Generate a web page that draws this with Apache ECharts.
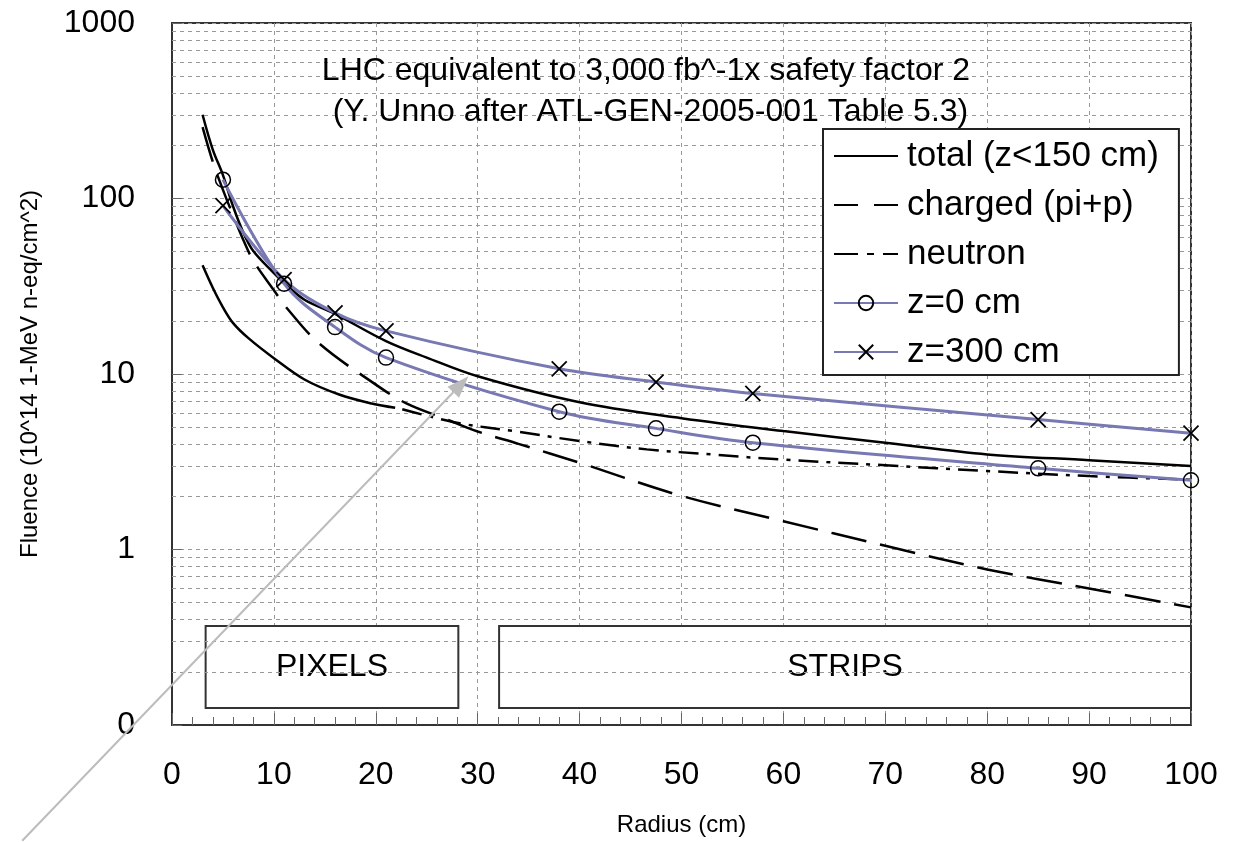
<!DOCTYPE html>
<html><head><meta charset="utf-8">
<script src="https://cdn.jsdelivr.net/npm/echarts@6/dist/echarts.min.js"></script>
<style>html,body{margin:0;padding:0;background:#fff}#c{width:1236px;height:842px}</style>
</head><body><div id="c"></div>
<script>
// ---- data (radius cm, fluence 1e14 n-eq/cm^2) ----
const total = [[3,300],[4,190],[5,136],[6,90],[7,64],[8,50],[10,37.6],[11,33],[13,26.5],[16,22],[21,15.4],[25,12.4],[30,9.7],[40,6.9],[50,5.6],[60,4.73],[70,4.06],[80,3.48],[90,3.23],[100,2.99]];
const charged = [[3,255],[4,162],[5,112],[6,80],[7,58],[8,44],[10,30],[11.2,24],[14.4,15],[20,8.7],[23,6.8],[27,5.5],[30,4.7],[34,4.0],[40,3.12],[50,2.02],[60,1.45],[70,1.05],[80,0.77],[90,0.6],[100,0.468]];
const neutronPixels = [[3,41.6],[4,31],[5,24],[6,19.5],[7.5,16],[10,12.3],[13,9.3],[16.4,7.64],[19.6,6.79],[21.9,6.42]];
const neutron = [[22.6,6.3],[28,5.27],[33.5,4.73],[40,4.15],[46.6,3.72],[53,3.48],[60,3.25],[70,3.02],[80,2.8],[90,2.62],[100,2.5]];
const z0 = [[5,128],[11,32.7],[16,18.5],[21,12.4],[38,6.1],[47.5,4.9],[57,4.06],[85,2.9],[100,2.48]];
const z300 = [[5,91],[11,34.5],[16,22.3],[21,17.6],[38,10.7],[47.5,9.0],[57,7.75],[85,5.5],[100,4.6]];

const seriesNames = ['total (z<150 cm)', 'charged (pi+p)', 'neutron', 'z=0 cm', 'z=300 cm'];
const yTickValues = [0.1, 1, 10, 100, 1000];
const yTickLabels = ['0', '1', '10', '100', '1000'];
const minorGridValues = [0.2,0.3,0.4,0.5,0.6,0.7,0.8,0.9, 2,3,4,5,6,7,8,9, 20,30,40,50,60,70,80,90, 200,300,400,500,600,700,800,900];
const regions = [{name:'PIXELS', r0:3.3, r1:28.1}, {name:'STRIPS', r0:32.1, r1:100}];
const regionBand = [0.125, 0.366];
const arrowFrom = [-14.7, 0.0219];
const arrowTo = [29.1, 9.7];
const titleLines = ['LHC equivalent to 3,000 fb^-1x safety factor 2', ' (Y. Unno after ATL-GEN-2005-001 Table 5.3)'];

const FONT = '"Liberation Sans", Arial, sans-serif';
const BLUE = '#7878b2';
const crossPath = 'path://M0,0L10,10M10,0L0,10';
const noSymbol = {color: 'rgba(0,0,0,0)', borderColor: 'rgba(0,0,0,0)', borderWidth: 0};

const chart = echarts.init(document.getElementById('c'), null, {renderer: 'canvas'});
const option = {
  backgroundColor: '#fff',
  animation: false,
  textStyle: {fontFamily: FONT, color: '#000'},
  title: {
    text: titleLines.join('\n'),
    left: 641, top: 46, textAlign: 'center',
    textStyle: {fontSize: 32, fontWeight: 'normal', color: '#000', lineHeight: 41, fontFamily: FONT}
  },
  legend: {
    data: [
      {name: seriesNames[0], itemStyle: noSymbol},
      {name: seriesNames[1], itemStyle: noSymbol, lineStyle: {type: [24, 16]}},
      {name: seriesNames[2], itemStyle: noSymbol, lineStyle: {type: [24, 9, 7, 9]}},
      {name: seriesNames[3]},
      {name: seriesNames[4]}
    ],
    orient: 'vertical',
    left: 823, top: 129,
    padding: [7, 20, 3, 10],
    itemGap: 9,
    itemWidth: 64, itemHeight: 18,
    backgroundColor: '#fff',
    borderColor: '#222', borderWidth: 2,
    textStyle: {fontSize: 35, lineHeight: 40, color: '#000', fontFamily: FONT, padding: [0, 0, 0, 4]},
    z: 20
  },
  grid: {left: 172, right: 45, top: 23, bottom: 116, show: true, borderColor: '#333', borderWidth: 2, backgroundColor: '#fff'},
  xAxis: {
    type: 'value', min: 0, max: 100, interval: 10,
    name: 'Radius (cm)', nameLocation: 'middle', nameGap: 88,
    nameTextStyle: {fontSize: 24, color: '#000', fontFamily: FONT},
    axisLine: {lineStyle: {color: '#333', width: 2}},
    axisTick: {inside: true, length: 12, lineStyle: {color: '#666'}},
    minorTick: {show: true, splitNumber: 5, length: 8, lineStyle: {color: '#666'}},
    axisLabel: {fontSize: 32, color: '#000', margin: 34, fontFamily: FONT},
    splitLine: {show: true, lineStyle: {color: '#999', type: [4, 4], width: 1}}
  },
  yAxis: {
    type: 'log', logBase: 10, min: 0.1, max: 1000,
    name: 'Fluence (10^14 1-MeV n-eq/cm^2)', nameLocation: 'middle', nameGap: 130,
    nameTextStyle: {fontSize: 24, color: '#000', fontFamily: FONT},
    axisLine: {lineStyle: {color: '#333', width: 2}},
    axisTick: {inside: true, length: 10, lineStyle: {color: '#666'}},
    axisLabel: {fontSize: 32, color: '#000', margin: 37, fontFamily: FONT,
      formatter: v => { const i = yTickValues.findIndex(t => Math.abs(Math.log10(t) - Math.log10(v)) < 1e-6); return i >= 0 ? yTickLabels[i] : ''; }},
    splitLine: {show: true, lineStyle: {color: '#999', type: [4, 4], width: 1}}
  },
  series: [
    {
      name: 'grid-minor', type: 'line', data: [], silent: true, z: 1,
      markLine: {silent: true, symbol: 'none', label: {show: false},
        lineStyle: {color: '#999', type: [4, 4], width: 1},
        data: minorGridValues.map(v => ({yAxis: v}))}
    },
    {
      name: 'regions', type: 'line', data: [], silent: true, z: 5,
      markArea: {silent: true,
        itemStyle: {color: '#fff', borderColor: '#333', borderWidth: 2},
        label: {show: true, position: 'inside', fontSize: 32, color: '#000', fontFamily: FONT},
        data: regions.map(r => [{name: r.name, xAxis: r.r0, yAxis: regionBand[1]}, {xAxis: r.r1, yAxis: regionBand[0]}])}
    },
    {name: seriesNames[0], type: 'line', data: total, smooth: 0.35, symbol: 'none', z: 6,
      lineStyle: {color: '#000', width: 2.5}, itemStyle: {color: '#000'}},
    {name: seriesNames[1], type: 'line', data: charged, smooth: 0.35, symbol: 'none', z: 6,
      lineStyle: {color: '#000', width: 2.5, type: [36, 14]}, itemStyle: {color: '#000'}},
    {name: seriesNames[2], type: 'line', data: neutron, smooth: 0.35, symbol: 'none', z: 6,
      lineStyle: {color: '#000', width: 2.5, type: [20, 8, 4, 8]}, itemStyle: {color: '#000'}},
    {name: 'neutron-pixels', type: 'line', data: neutronPixels, smooth: 0.35, symbol: 'none', z: 6,
      lineStyle: {color: '#000', width: 2.5}},
    {name: seriesNames[3], type: 'line', data: z0, smooth: 0.35, symbol: 'circle', symbolSize: 15, showSymbol: true, z: 7,
      lineStyle: {color: BLUE, width: 3}, itemStyle: {color: 'rgba(255,255,255,0)', borderColor: '#000', borderWidth: 1.5}},
    {name: seriesNames[4], type: 'line', data: z300, smooth: 0.35, symbol: crossPath, symbolSize: 15, showSymbol: true, z: 7,
      lineStyle: {color: BLUE, width: 3}, itemStyle: {color: 'rgba(255,255,255,0)', borderColor: '#000', borderWidth: 1.8}}
  ]
};
chart.setOption(option);

// gray annotation arrow, positioned through the chart's own scales
const p0 = chart.convertToPixel({gridIndex: 0}, arrowFrom);
const p1 = chart.convertToPixel({gridIndex: 0}, arrowTo);
const dx = p1[0] - p0[0], dy = p1[1] - p0[1];
const L = Math.sqrt(dx*dx + dy*dy), ux = dx / L, uy = dy / L;
const headLen = 22, headW = 8;
const bx = p1[0] - ux*headLen, by = p1[1] - uy*headLen;
chart.setOption({
  graphic: [
    {type: 'line', z: 50, shape: {x1: p0[0], y1: p0[1], x2: bx, y2: by}, style: {stroke: '#bcbcbc', lineWidth: 2}},
    {type: 'polygon', z: 50, shape: {points: [[p1[0], p1[1]], [bx - uy*headW, by + ux*headW], [bx + uy*headW, by - ux*headW]]}, style: {fill: '#bcbcbc'}}
  ]
});
</script></body></html>
